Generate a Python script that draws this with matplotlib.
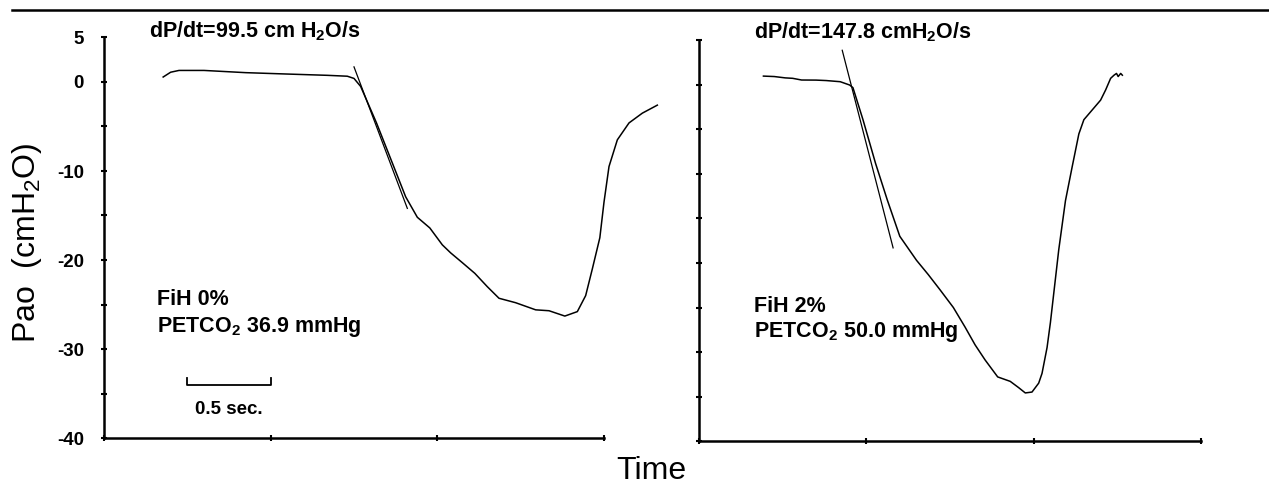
import matplotlib
matplotlib.use("Agg")
import matplotlib.pyplot as plt
from matplotlib.lines import Line2D

plt.rcParams['font.family'] = ['Liberation Sans', 'DejaVu Sans']
plt.rcParams['mathtext.fontset'] = 'custom'
plt.rcParams['mathtext.rm'] = 'Liberation Sans'
plt.rcParams['mathtext.bf'] = 'Liberation Sans:bold'
plt.rcParams['axes.unicode_minus'] = False

# ---------------- data ----------------
# Left trace: FiH 0%
t_left = [0.355, 0.40, 0.45, 0.60, 0.85, 1.09, 1.34, 1.46, 1.50, 1.54, 1.635, 1.73,
          1.81, 1.88, 1.955, 2.03, 2.08, 2.15, 2.225, 2.30, 2.37, 2.47, 2.59, 2.67,
          2.765, 2.84, 2.89, 2.93, 2.975, 3.00, 3.03, 3.08, 3.15, 3.23, 3.32]
p_left = [0.56, 1.1, 1.3, 1.3, 1.05, 0.9, 0.75, 0.65, 0.4, -0.5, -4.6, -9.1,
          -12.9, -15.2, -16.4, -18.3, -19.2, -20.3, -21.5, -23.0, -24.3, -24.8, -25.6, -25.7,
          -26.3, -25.8, -24.0, -21.0, -17.5, -13.5, -9.5, -6.5, -4.6, -3.5, -2.6]
tan_left_t = [1.50, 1.82]
tan_left_p = [1.7, -14.2]

# Right trace: FiH 2%
t_right = [0.385, 0.45, 0.515, 0.56, 0.613, 0.70, 0.76, 0.844, 0.90, 0.92, 0.98, 1.055,
           1.125, 1.20, 1.30, 1.37, 1.44, 1.52, 1.59, 1.65, 1.71, 1.785, 1.86, 1.91,
           1.95, 1.99, 2.03, 2.05, 2.08, 2.10, 2.15, 2.19, 2.23, 2.27, 2.30, 2.35,
           2.40, 2.43, 2.46, 2.48, 2.495, 2.505, 2.52, 2.53]
p_right = [1.0, 0.95, 0.8, 0.75, 0.56, 0.55, 0.5, 0.37, 0.0, -0.3, -3.9, -8.8,
           -12.9, -17.0, -19.7, -21.3, -23.0, -25.0, -27.2, -29.2, -30.9, -32.8, -33.3, -34.0,
           -34.6, -34.5, -33.5, -32.4, -29.5, -26.7, -18.5, -13.0, -9.2, -5.5, -3.9, -2.8,
           -1.7, -0.56, 0.75, 1.1, 1.3, 0.95, 1.3, 1.1]
tan_right_t = [0.856, 1.16]
tan_right_p = [3.9, -18.3]

ytick_vals = [5, 0, -5, -10, -15, -20, -25, -30, -35, -40]
ytick_labels = ['5', '0', '', '-10', '', '-20', '', '-30', '', '-40']
xtick_vals = [0, 1, 2, 3]

titles = ['dP/dt=99.5 cm H$_\\mathbf{2}$O/s', 'dP/dt=147.8 cmH$_\\mathbf{2}$O/s']
notes = [('FiH 0%', 'PETCO$_\\mathbf{2}$ 36.9 mmHg'), ('FiH 2%', 'PETCO$_\\mathbf{2}$ 50.0 mmHg')]
scale_bar_t = [0.5, 1.0]
scale_bar_p = -34.0
scale_label = '0.5 sec.'

# ---------------- figure ----------------
W, H = 1269, 486
fig = plt.figure(figsize=(W / 100, H / 100), dpi=100)

def px(x, y):
    return x / W, 1 - y / H

axL = fig.add_axes([104 / W, 1 - 438 / H, 500 / W, 400.5 / H])
axR = fig.add_axes([699 / W, 1 - 441 / H, 502 / W, 400.5 / H])

for ax, t, p, tt, tp, show_labels in [
        (axL, t_left, p_left, tan_left_t, tan_left_p, True),
        (axR, t_right, p_right, tan_right_t, tan_right_p, False)]:
    ax.plot(t, p, color='black', lw=1.1, clip_on=False)
    ax.plot(tt, tp, color='black', lw=0.9, clip_on=False)
    ax.set_xlim(0, 3)
    ax.set_ylim(-40, 5)
    for s in ['top', 'right']:
        ax.spines[s].set_visible(False)
    for s in ['left', 'bottom']:
        ax.spines[s].set_linewidth(1.8)
    ax.set_yticks(ytick_vals)
    ax.set_xticks(xtick_vals)
    ax.set_xticklabels([])
    if show_labels:
        ax.set_yticklabels(ytick_labels, fontsize=13.5, fontweight='bold')
    else:
        ax.set_yticklabels([])
    ax.tick_params(axis='both', direction='inout', length=5, width=1.5, pad=12)
    ax.patch.set_visible(False)

# scale bar
axL.plot([scale_bar_t[0], scale_bar_t[0], scale_bar_t[1], scale_bar_t[1]],
         [scale_bar_p + 0.7, scale_bar_p, scale_bar_p, scale_bar_p + 0.7],
         color='black', lw=1.3)
axL.text(sum(scale_bar_t) / 2, scale_bar_p - 2.8, scale_label, ha='center', va='center',
         fontsize=13.5, fontweight='bold')

# titles
fig.text(*px(149, 37), titles[0], fontsize=15.5, fontweight='bold', va='baseline', ha='left')
fig.text(*px(754, 38), titles[1], fontsize=15.5, fontweight='bold', va='baseline', ha='left')

# annotations
fig.text(*px(157, 305), notes[0][0], fontsize=15.5, fontweight='bold', va='baseline')
fig.text(*px(157, 332), notes[0][1], fontsize=15.5, fontweight='bold', va='baseline')
fig.text(*px(754, 312), notes[1][0], fontsize=15.5, fontweight='bold', va='baseline')
fig.text(*px(754, 337), notes[1][1], fontsize=15.5, fontweight='bold', va='baseline')

# axis labels
fig.text(*px(27, 243), 'Pao  (cmH$_2$O)', rotation=90, fontsize=23, ha='center', va='center')
fig.text(*px(651, 471), 'Time', fontsize=23, ha='center', va='center')

# top rule
fig.add_artist(Line2D([12 / W, 1.0], [1 - 10 / H, 1 - 10 / H], color='black', lw=1.8,
                      transform=fig.transFigure))

fig.savefig('out.png', dpi=100)
